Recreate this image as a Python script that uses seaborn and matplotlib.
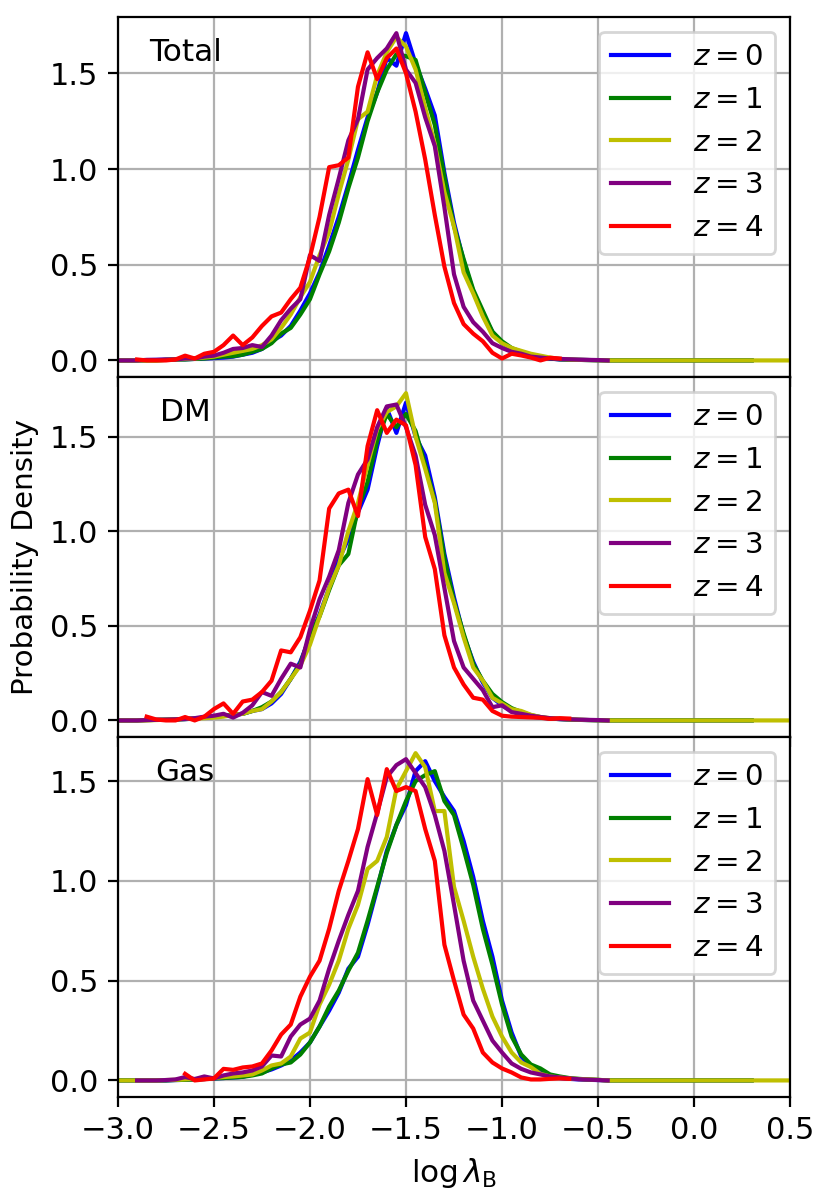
import numpy as np
import matplotlib
matplotlib.use('Agg')
import matplotlib.pyplot as plt
import seaborn as sns

# bin centres of the histograms (log lambda_B)
log_lambda = np.round(np.arange(-3.0, 0.5001, 0.05), 2)

redshifts = [0, 1, 2, 3, 4]
colours = ['b', 'g', 'y', 'purple', 'r']
panels = ['Total', 'DM', 'Gas']

# first / last bin drawn for each redshift (beyond the listed values the curve sits at 0)
total_start = [-3.0, -3.0, -3.0, -3.0, -2.9]
total_end = [0.3, 0.3, 0.5, -0.45, -0.7]
dm_start = [-3.0, -3.0, -3.0, -3.0, -2.85]
dm_end = [0.3, 0.3, 0.5, -0.45, -0.65]
gas_start = [-3.0, -3.0, -3.0, -2.9, -2.65]
gas_end = [0.3, 0.3, 0.5, -0.45, -0.65]

# ---- Total ----
total_z0 = [0.0, 0.0, 0.0, 0.002, 0.003, 0.004, 0.005, 0.006, 0.008, 0.01, 0.012,
            0.015, 0.02, 0.03, 0.04, 0.06, 0.10, 0.13, 0.18, 0.26, 0.35,
            0.46, 0.60, 0.75, 0.92, 1.10, 1.27, 1.40, 1.58, 1.54, 1.71,
            1.55, 1.42, 1.28, 0.98, 0.72, 0.52, 0.36, 0.24, 0.15, 0.09,
            0.06, 0.04, 0.025, 0.015, 0.01, 0.005, 0.004, 0.003, 0.002, 0.001]
total_z1 = [0.0, 0.0, 0.0, 0.0, 0.0, 0.003, 0.005, 0.005, 0.008, 0.01, 0.015,
            0.02, 0.022, 0.03, 0.045, 0.06, 0.09, 0.14, 0.17, 0.24, 0.32,
            0.45, 0.57, 0.72, 0.90, 1.06, 1.25, 1.40, 1.52, 1.60, 1.59,
            1.57, 1.40, 1.23, 0.96, 0.70, 0.53, 0.37, 0.26, 0.15, 0.10,
            0.065, 0.045, 0.03, 0.018, 0.01, 0.006, 0.004, 0.003, 0.002, 0.001]
total_z2 = [0.0, 0.0, 0.0, 0.0, 0.0, 0.003, 0.005, 0.008, 0.01, 0.015, 0.02,
            0.03, 0.04, 0.05, 0.06, 0.08, 0.11, 0.17, 0.24, 0.33, 0.41,
            0.55, 0.67, 0.87, 1.05, 1.26, 1.30, 1.49, 1.61, 1.69, 1.64,
            1.52, 1.32, 1.13, 0.88, 0.70, 0.46, 0.35, 0.23, 0.13, 0.09,
            0.065, 0.05, 0.035, 0.025, 0.015, 0.008, 0.005, 0.003, 0.002, 0.001]
total_z3 = [0.0, 0.0, 0.0, 0.003, 0.003, 0.005, 0.005, 0.01, 0.01, 0.02, 0.025,
            0.04, 0.06, 0.065, 0.08, 0.07, 0.13, 0.21, 0.27, 0.32, 0.55,
            0.52, 0.76, 0.95, 1.15, 1.26, 1.52, 1.58, 1.63, 1.71, 1.52,
            1.45, 1.27, 1.12, 0.80, 0.45, 0.28, 0.20, 0.15, 0.09, 0.065,
            0.045, 0.035, 0.02, 0.015, 0.01, 0.008, 0.006, 0.004, 0.003, 0.002]
total_z4 = [0.005, 0.0, 0.0, 0.0, 0.005, 0.025, 0.01, 0.035, 0.045,
            0.08, 0.13, 0.08, 0.12, 0.18, 0.23, 0.25, 0.32, 0.38, 0.54,
            0.75, 1.01, 1.02, 1.06, 1.43, 1.61, 1.47, 1.58, 1.63, 1.50,
            1.30, 1.05, 0.76, 0.49, 0.30, 0.19, 0.14, 0.10, 0.04, 0.01,
            0.035, 0.026, 0.015, 0.0, 0.014, 0.01]

# ---- DM ----
dm_z0 = [0.0, 0.0, 0.0, 0.002, 0.003, 0.004, 0.005, 0.007, 0.01, 0.015, 0.02,
         0.026, 0.03, 0.035, 0.05, 0.06, 0.09, 0.14, 0.22, 0.31, 0.44,
         0.56, 0.70, 0.85, 0.96, 1.10, 1.22, 1.45, 1.65, 1.52, 1.68,
         1.50, 1.40, 1.18, 0.88, 0.65, 0.45, 0.31, 0.20, 0.12, 0.08,
         0.05, 0.03, 0.02, 0.015, 0.01, 0.007, 0.005, 0.003, 0.002, 0.001]
dm_z1 = [0.0, 0.0, 0.0, 0.002, 0.003, 0.004, 0.005, 0.007, 0.01, 0.015, 0.02,
         0.026, 0.03, 0.035, 0.05, 0.07, 0.10, 0.15, 0.22, 0.30, 0.45,
         0.55, 0.69, 0.82, 0.88, 1.12, 1.26, 1.48, 1.62, 1.55, 1.62,
         1.53, 1.35, 1.16, 0.86, 0.63, 0.46, 0.30, 0.21, 0.14, 0.097,
         0.065, 0.045, 0.028, 0.018, 0.01, 0.007, 0.005, 0.003, 0.002, 0.001]
dm_z2 = [0.0, 0.0, 0.0, 0.0, 0.002, 0.004, 0.006, 0.008, 0.01, 0.012, 0.015,
         0.02, 0.03, 0.035, 0.05, 0.06, 0.10, 0.15, 0.22, 0.29, 0.40,
         0.55, 0.70, 0.82, 1.00, 1.15, 1.35, 1.54, 1.63, 1.66, 1.73,
         1.50, 1.33, 1.15, 0.78, 0.62, 0.44, 0.28, 0.21, 0.12, 0.09,
         0.06, 0.05, 0.03, 0.018, 0.012, 0.009, 0.006, 0.004, 0.002, 0.001]
dm_z3 = [0.0, 0.0, 0.0, 0.002, 0.003, 0.004, 0.006, 0.008, 0.012, 0.02, 0.025,
         0.035, 0.015, 0.04, 0.08, 0.15, 0.13, 0.22, 0.30, 0.28, 0.48,
         0.64, 0.76, 0.90, 1.15, 1.30, 1.38, 1.55, 1.66, 1.67, 1.55,
         1.40, 1.14, 0.98, 0.70, 0.42, 0.28, 0.22, 0.16, 0.07, 0.08,
         0.044, 0.035, 0.025, 0.018, 0.012, 0.008, 0.006, 0.004, 0.003, 0.002]
dm_z4 = [0.02, 0.005, 0.0, 0.0, 0.018, 0.0, 0.02, 0.06,
         0.09, 0.035, 0.10, 0.11, 0.15, 0.21, 0.37, 0.36, 0.44, 0.58,
         0.74, 1.12, 1.20, 1.22, 1.08, 1.45, 1.64, 1.52, 1.59, 1.56,
         1.35, 0.97, 0.80, 0.45, 0.28, 0.19, 0.12, 0.11, 0.05, 0.025,
         0.02, 0.018, 0.016, 0.014, 0.008, 0.012, 0.01]

# ---- Gas ----
gas_z0 = [0.0, 0.0, 0.0, 0.0, 0.0, 0.0, 0.002, 0.003, 0.005, 0.007, 0.01,
          0.012, 0.015, 0.018, 0.03, 0.04, 0.055, 0.075, 0.10, 0.14, 0.19,
          0.27, 0.35, 0.44, 0.56, 0.62, 0.78, 0.96, 1.15, 1.28, 1.38,
          1.55, 1.60, 1.50, 1.42, 1.35, 1.20, 1.02, 0.80, 0.62, 0.40,
          0.24, 0.12, 0.07, 0.045, 0.02, 0.012, 0.008, 0.005, 0.003, 0.002]
gas_z1 = [0.0, 0.0, 0.0, 0.0, 0.0, 0.0, 0.002, 0.003, 0.005, 0.007, 0.01,
          0.012, 0.015, 0.018, 0.025, 0.035, 0.06, 0.08, 0.09, 0.13, 0.19,
          0.27, 0.37, 0.45, 0.55, 0.64, 0.80, 0.97, 1.14, 1.28, 1.40,
          1.50, 1.53, 1.55, 1.40, 1.33, 1.16, 0.98, 0.76, 0.58, 0.38,
          0.22, 0.13, 0.08, 0.06, 0.03, 0.02, 0.012, 0.008, 0.005, 0.003]
gas_z2 = [0.0, 0.0, 0.0, 0.0, 0.0, 0.002, 0.003, 0.005, 0.007, 0.01, 0.012,
          0.017, 0.02, 0.025, 0.03, 0.05, 0.075, 0.085, 0.12, 0.21, 0.24,
          0.38, 0.48, 0.60, 0.76, 0.88, 1.06, 1.10, 1.22, 1.46, 1.55,
          1.64, 1.57, 1.35, 1.35, 0.97, 0.80, 0.62, 0.46, 0.32, 0.22,
          0.14, 0.09, 0.067, 0.033, 0.02, 0.015, 0.01, 0.007, 0.005, 0.003]
gas_z3 = [0.0, 0.0, 0.0, 0.002, 0.005, 0.017, 0.007, 0.02, 0.01,
          0.025, 0.035, 0.04, 0.05, 0.07, 0.125, 0.12, 0.22, 0.28, 0.31,
          0.40, 0.56, 0.70, 0.83, 0.95, 1.17, 1.34, 1.52, 1.58, 1.61,
          1.54, 1.47, 1.33, 1.15, 0.88, 0.60, 0.40, 0.30, 0.20, 0.14,
          0.085, 0.058, 0.04, 0.03, 0.02, 0.015, 0.01, 0.006, 0.004, 0.002]
gas_z4 = [0.033, 0.0, 0.005, 0.01,
          0.058, 0.053, 0.065, 0.07, 0.085, 0.15, 0.23, 0.28, 0.42, 0.52,
          0.60, 0.76, 0.95, 1.10, 1.26, 1.51, 1.33, 1.56, 1.45, 1.47,
          1.45, 1.26, 1.10, 0.68, 0.50, 0.33, 0.26, 0.14, 0.09, 0.06,
          0.04, 0.015, 0.005, 0.005, 0.008, 0.01, 0.008]

panel_data = {
    'Total': ([total_z0, total_z1, total_z2, total_z3, total_z4], total_start, total_end),
    'DM': ([dm_z0, dm_z1, dm_z2, dm_z3, dm_z4], dm_start, dm_end),
    'Gas': ([gas_z0, gas_z1, gas_z2, gas_z3, gas_z4], gas_start, gas_end),
}


def histogram_line(values, x_first, x_last):
    keep = (log_lambda >= x_first - 1e-6) & (log_lambda <= x_last + 1e-6)
    x = log_lambda[keep]
    y = np.zeros(len(x))
    y[:len(values)] = values
    return x, y


plt.rcParams['xtick.labelsize'] = 11
plt.rcParams['ytick.labelsize'] = 11

fig, axes = plt.subplots(3, 1, sharex=True, figsize=(4.15, 6), dpi=200)
fig.subplots_adjust(left=0.142, right=0.952, top=0.986, bottom=0.086, hspace=0)

for ax, name in zip(axes, panels):
    curves, starts, ends = panel_data[name]
    for z, col, vals, x0, x1 in zip(redshifts, colours, curves, starts, ends):
        x, y = histogram_line(vals, x0, x1)
        sns.lineplot(x=x, y=y, color=col, lw=1.5, label=r'$z = %d$' % z, ax=ax)
    ax.grid(True)
    ax.set_axisbelow(True)
    ax.legend(loc='upper right', fontsize=10.6)
    ax.text(0.1, 0.9, name, transform=ax.transAxes, ha='center', va='center', fontsize=11.2)
    ax.set_ylabel('')

axes[1].set_ylabel('Probability Density', fontsize=10.6)
axes[2].set_xlim(-3.0, 0.5)
axes[2].set_xlabel(r'$\log\lambda_{\rm B}$', fontsize=11.2)

fig.savefig('out.png', dpi=200)
